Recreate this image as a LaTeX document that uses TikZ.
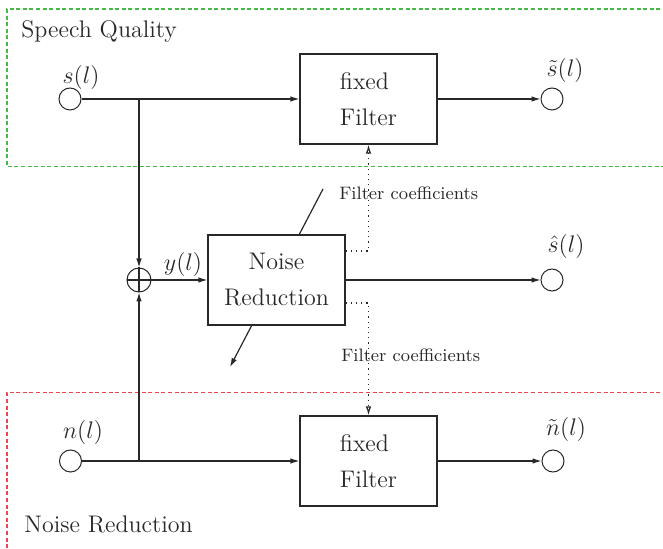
\documentclass[tikz,border=0pt]{standalone}
\usetikzlibrary{arrows.meta,calc}
\definecolor{nrink}{RGB}{40,40,40}
\definecolor{nrgreen}{RGB}{70,185,70}
\definecolor{nrred}{RGB}{235,70,80}
\begin{document}
\begin{tikzpicture}[
    x=5pt, y=-5pt,
    >={Latex[length=4.5pt,width=2.8pt]},
    % Blocks: one adaptive noise reduction, two copies of its fixed filter.
    box/.style={
        draw=nrink,
        line width=0.6pt,
        fill=white,
        minimum width=68.5pt,
        minimum height=45pt,
        font=\large,
        text=nrink
    },
    fixedbox/.style={
        box,
        align=left
    },
    nrbox/.style={
        box,
        align=center
    },
    port/.style={
        circle,
        draw=nrink,
        line width=0.5pt,
        fill=white,
        minimum size=11pt,
        inner sep=0pt
    },
    adder/.style={port, minimum size=12pt},
    siglabel/.style={font=\large, text=nrink, inner sep=0pt},
    coeflabel/.style={font=\small, text=nrink, inner sep=0pt, anchor=base west},
    region/.style={dash pattern=on 2pt off 1.3pt, line width=0.6pt},
    wire/.style={line width=0.6pt, draw=nrink},
    arrow/.style={wire, ->},
    coefarrow/.style={wire, dotted, -{Latex[open,length=4.5pt,width=2.8pt]}}
]
    \clip (0,0) rectangle (66.3,54.9);

    % The dashed frames run out of the picture to the right (and below).
    \draw[region, draw=nrgreen] (70,0.9) -- (0.7,0.9) -- (0.7,16.65) -- (70,16.65);
    \draw[region, draw=nrred] (70,39.25) -- (0.7,39.25) -- (0.7,60);

    \node[siglabel, anchor=base west] (sqlab) at (2.1,3.8) {Speech Quality};
    \node[siglabel, anchor=base west] (nrlab) at (2.4,53.2) {Noise Reduction};

    % The adjustment arrow lies behind the noise reduction block.
    \coordinate (adjtop) at (32.3,18.9);
    \coordinate (adjbot) at (23.0,36.7);
    \draw[arrow] (adjtop) -- (adjbot);

    \node[port] (sin) at (7.0,9.9) {};
    \node[siglabel] (sinlab) at (8.1,7.8) {$s(l)$};
    \node[fixedbox] (filts) at (36.85,9.9) {fixed\\[4pt]Filter};
    \node[port] (sout) at (55.2,9.9) {};
    \node[siglabel] (soutlab) at (56.5,7.1) {$\tilde{s}(l)$};

    \node[adder] (plus) at (13.9,28.0) {};
    \node[siglabel] (ylab) at (18.3,26.5) {$y(l)$};
    \node[nrbox] (nr) at (27.65,28.0) {Noise\\[4pt]Reduction};
    \node[port] (shat) at (55.2,28.0) {};
    \node[siglabel] (shatlab) at (56.6,24.7) {$\hat{s}(l)$};

    \node[port] (nin) at (7.05,46.1) {};
    \node[siglabel] (ninlab) at (8.3,43.2) {$n(l)$};
    \node[fixedbox] (filtn) at (36.85,46.1) {fixed\\[4pt]Filter};
    \node[port] (nout) at (55.3,46.1) {};
    \node[siglabel] (noutlab) at (56.6,43.0) {$\tilde{n}(l)$};

    \coordinate (js) at (13.9,9.9);
    \coordinate (jn) at (13.9,46.1);

    \draw[arrow] (sin) -- (filts);
    \draw[arrow] (filts) -- (sout);
    \draw[arrow] (nin) -- (filtn);
    \draw[arrow] (filtn) -- (nout);

    \draw[arrow] (js) -- (plus);
    \draw[arrow] (jn) -- (plus);
    \draw[wire] (plus.north) -- (plus.south) (plus.west) -- (plus.east);
    \draw[arrow] (plus) -- (nr);
    \draw[arrow] (nr) -- (shat);

    % Coefficients are copied from the noise reduction into both filters.
    \draw[coefarrow] ($(nr.east)+(0,-2.9)$) -| (filts.south);
    \draw[coefarrow] ($(nr.east)+(0,2.3)$) -| (filtn.north);
    \node[coeflabel] (coefup) at (33.9,20.0) {Filter coefficients};
    \node[coeflabel] (coefdown) at (34.1,36.2) {Filter coefficients};
\end{tikzpicture}
\end{document}
